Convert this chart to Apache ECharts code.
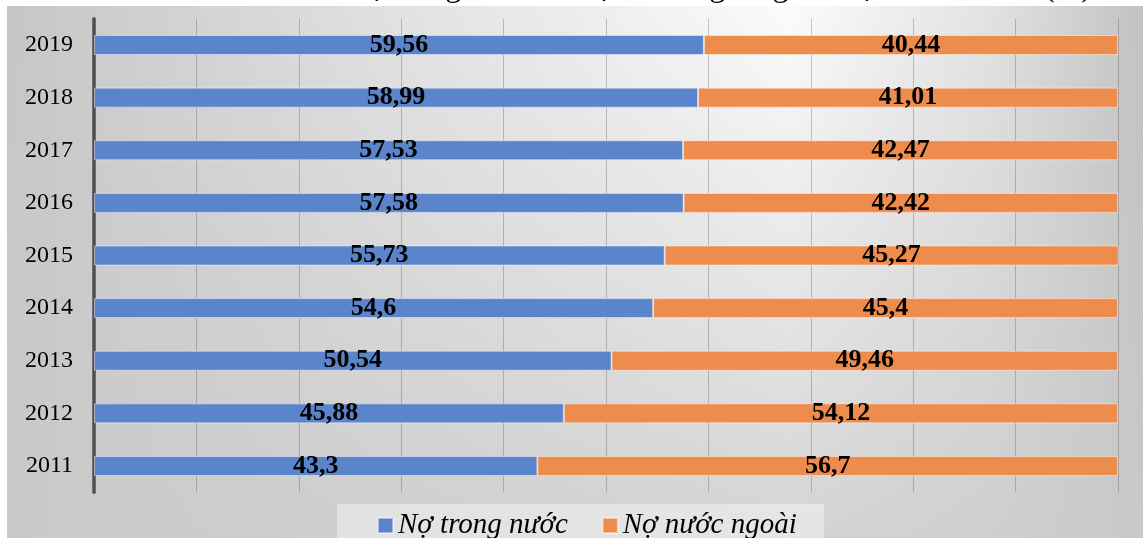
<!DOCTYPE html>
<html>
<head>
<meta charset="utf-8">
<script src="https://cdn.jsdelivr.net/npm/echarts@6/dist/echarts.min.js"></script>
<style>
  html, body { margin: 0; padding: 0; background: #ffffff; }
  #chart { width: 1143px; height: 538px; }
</style>
</head>
<body>
<div id="chart"></div>
<script>
// Years on the category axis (bottom to top)
const years = ['2011', '2012', '2013', '2014', '2015', '2016', '2017', '2018', '2019'];
// Share of domestic debt (%)
const domesticDebt = [43.3, 45.88, 50.54, 54.6, 55.73, 57.58, 57.53, 58.99, 59.56];
// Share of foreign debt (%)
const foreignDebt = [56.7, 54.12, 49.46, 45.4, 45.27, 42.42, 42.47, 41.01, 40.44];
const seriesNames = ['Nợ trong nước', 'Nợ nước ngoài'];
const titleText = 'Cơ cấu nợ trong nước và nợ nước ngoài giai đoạn 2011-2019 (%)';

const SERIF = '"Liberation Serif", "Times New Roman", serif';
const fmt = p => String(p.value).replace('.', ',');

const chart = echarts.init(document.getElementById('chart'), null, { renderer: 'canvas' });

const barLabel = {
  show: true,
  position: 'inside',
  formatter: fmt,
  color: '#000',
  fontFamily: SERIF,
  fontWeight: 'bold',
  fontSize: 26
};

chart.setOption({
  animation: false,
  graphic: [
    // panel background: light centre towards the top right, grey edges
    {
      type: 'rect', z: -20, silent: true,
      shape: { x: 7, y: 6, width: 1136, height: 532 },
      style: {
        fill: new echarts.graphic.LinearGradient(0, 0, 1, 0, [
          { offset: 0, color: '#c6c6c6' },
          { offset: 0.35, color: '#e2e2e2' },
          { offset: 0.69, color: '#fbfbfb' },
          { offset: 0.86, color: '#e3e3e3' },
          { offset: 1, color: '#c2c2c2' }
        ])
      }
    },
    {
      type: 'rect', z: -19, silent: true,
      shape: { x: 7, y: 6, width: 1136, height: 532 },
      style: {
        fill: new echarts.graphic.LinearGradient(0, 0, 0, 1, [
          { offset: 0, color: 'rgba(202,202,202,0)' },
          { offset: 1, color: 'rgba(202,202,202,0.8)' }
        ])
      }
    },
    // legend backdrop
    {
      type: 'rect', z: -18, silent: true,
      shape: { x: 337, y: 504, width: 487, height: 34 },
      style: { fill: 'rgba(245,245,245,0.5)' }
    },
    // title, running above the top edge of the page
    {
      type: 'text', z: 10, silent: true,
      x: 1092, y: 4,
      style: {
        text: titleText,
        font: '32px ' + SERIF,
        fill: '#000',
        align: 'right',
        verticalAlign: 'bottom'
      }
    }
  ],
  legend: {
    data: seriesNames,
    left: 372,
    top: 506,
    icon: 'rect',
    itemWidth: 15,
    itemHeight: 15,
    itemGap: 34,
    textStyle: {
      fontFamily: SERIF,
      fontStyle: 'italic',
      fontSize: 29,
      color: '#000'
    }
  },
  grid: {
    left: 94,
    right: 25,
    top: 18.7,
    bottom: 45.7,
    containLabel: false
  },
  xAxis: {
    type: 'value',
    min: 0,
    max: 100,
    interval: 10,
    axisLine: { show: false },
    axisTick: { show: false },
    axisLabel: { show: false },
    splitLine: { show: true, lineStyle: { color: 'rgba(0,0,0,0.2)', width: 1 } }
  },
  yAxis: {
    type: 'category',
    data: years,
    axisLine: { show: true, lineStyle: { color: '#4f4f4f', width: 3.5 } },
    axisTick: { show: false },
    axisLabel: {
      margin: 21,
      color: '#000',
      fontFamily: SERIF,
      fontSize: 24
    }
  },
  series: [
    {
      name: seriesNames[0],
      type: 'bar',
      stack: 'share',
      data: domesticDebt,
      barWidth: 20,
      clip: true,
      itemStyle: { color: '#5b85cb', borderColor: 'rgba(255,255,255,0.45)', borderWidth: 1 },
      label: barLabel
    },
    {
      name: seriesNames[1],
      type: 'bar',
      stack: 'share',
      data: foreignDebt,
      barWidth: 20,
      clip: true,
      itemStyle: { color: '#ed8c4d', borderColor: 'rgba(255,255,255,0.45)', borderWidth: 1 },
      label: barLabel
    }
  ]
});
</script>
</body>
</html>
